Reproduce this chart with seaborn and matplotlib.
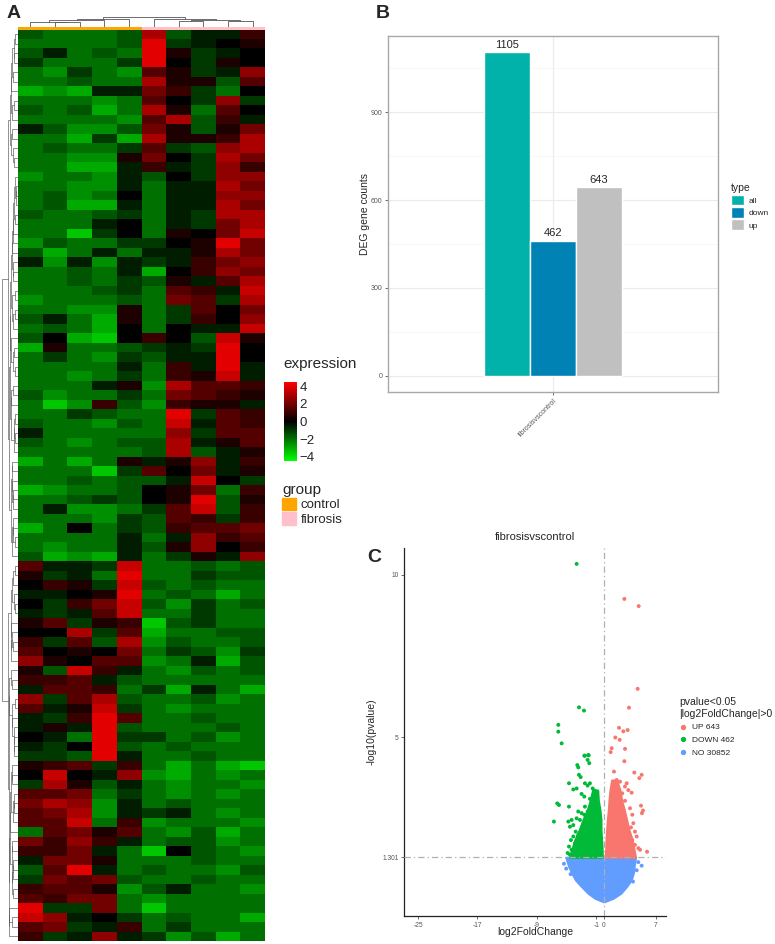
import numpy as np
import pandas as pd
import seaborn as sns
import matplotlib as mpl
import matplotlib.pyplot as plt
from matplotlib.colors import LinearSegmentedColormap, ListedColormap
from matplotlib.patches import Patch
from matplotlib.lines import Line2D

# ---- A: heatmap (rows, top to bottom; 10 samples) ----
samples = ["C1", "C2", "C3", "C4", "C5", "F1", "F2", "F3", "F4", "F5"]
sample_groups = ["control"] * 5 + ["fibrosis"] * 5
group_names = ["control", "fibrosis"]
group_colors = ["#FFA500", "#FFC0CB"]
heat_ticks = [-4, -2, 0, 2, 4]
expr_rows = [
    [-1.5, -2, -2, -2, -1.5, 3, -1.5, -0.5, -0.5, 1],
    [-2, -2, -2, -2, -1.5, 4, -1, -0.5, 0, 0.5],
    [-1.5, -0.5, -2, -1.5, -2, 4, 0.5, -1, -0.5, 0],
    [-1, -2, -2, -2, -1, 4, 0, -1, 0.5, 0],
    [-2, -2.5, -1, -2, -2.5, 1.5, 0.5, -1, -0.5, 2.5],
    [-2, -2, -1.5, -2, -2, 3, 0.5, 0.5, -1.5, 1.5],
    [-3, -2.5, -3, -0.5, -0.5, 2, 1, -1, -2, 0],
    [-2, -2, -2, -2.5, -2, 1.5, 0, -1, 2.5, -1],
    [-1.5, -2, -1.5, -3, -2, 3, 0.5, -2, 1.5, 0],
    [-2, -2, -2, -2, -2.5, 1.5, 3, -1.5, 1, -0.5],
    [-0.5, -1.5, -2.5, -2.5, -1.5, 2, 0.5, -1.5, 0.5, 2],
    [-2, -2, -3, -1, -3, 3, 0.5, 0.5, 1, 3],
    [-2, -1.5, -2, -2, -1, 1.5, -1, -1.5, 2.5, 3],
    [-2, -2, -2.5, -2.5, 0.5, 2, 0, -1, 3, 2],
    [-2, -2, -3, -3, -0.5, 1, -0.5, -1, 2.5, 1],
    [-2.5, -2, -2, -2.5, -0.5, -1.5, 0, -1, 2.5, 2.5],
    [-2, -2, -2.5, -2.5, -0.5, -2, -0.5, -0.5, 3, 2],
    [-2, -1.5, -2.5, -2, 0, -2, -0.5, -0.5, 2.5, 2.5],
    [-2, -1.5, -3, -3, -0.5, -2, -0.5, -0.5, 3, 2],
    [-1.5, -2, -2, -1.5, -1, -2, -0.5, -1, 3, 3],
    [-2, -2, -2, -0.5, 0, -2, -0.5, -1, 2, 3],
    [-2, -2, -3.5, -1, 0, -2, 0.5, 0, 2, 3.5],
    [-2.5, -1.5, -2, -2, -1, -1, 0, 0.5, 4, 2],
    [-1.5, -3, -2, -0.5, -2, -0.5, -0.5, 0.5, 3, 2],
    [-0.5, -2.5, -0.5, -2.5, -0.5, -1, -0.5, 1, 2, 2.5],
    [-2, -2, -1.5, -2, -0.5, -3, 0, 1, 2.5, 2],
    [-2, -2, -1.5, -2, -1, -1.5, 0.5, -0.5, 1.5, 3],
    [-2, -2, -2, -1.5, -1, -2, 1.5, 1, -0.5, 3.5],
    [-2.5, -2, -2, -2, -1.5, -2, 2, 1.5, -1, 3],
    [-2, -2, -2.5, -2.5, 0.5, -2, -1, 1.5, 0, 2],
    [-1.5, -0.5, -2, -3, 0.5, -2, -1, 1, 0, 2.5],
    [-2, -1.5, -2, -3, 0, -2, 0, -0.5, -0.5, 3.5],
    [-1.5, 0, -3, -3.5, 0, 1, 0, -1.5, 3.5, 0.5],
    [-3, 0.5, -2, -2, -1.5, -1, -0.5, -1, 4, 0],
    [-2, -1, -2, -2.5, -1, -1.5, -0.5, -0.5, 4, 0],
    [-2, -2, -2, -2, -0.5, -2, 1, -0.5, 4, -0.5],
    [-2, -2, -2.5, -2, -1, -2, 1, 0.5, 3.5, -0.5],
    [-2, -2, -2, -0.5, 0.5, -2.5, 3, 1.5, 1.5, 1],
    [-1.5, -2.5, -2, -2, -1, -2, 2, 1.5, 1, 0.5],
    [-2, -3.5, -2.5, 1, -1.5, -2.5, 1, 0.5, 0.5, -0.5],
    [-2, -2, -1, -1.5, -2, -2, 4, -1, 1.5, 1],
    [-1.5, -2, -2, -2.5, -1.5, -2, 3.5, -0.5, 1.5, 1],
    [-0.5, -2, -2, -2, -2, -2, 2.5, -1, 1.5, 1.5],
    [-1.5, -2, -2.5, -2, -1.5, -1.5, 3, -0.5, 0.5, 1.5],
    [-2, -2, -2, -2, -2, -1.5, 3, -1.5, -0.5, 0.5],
    [-3, -2, -3, -2, 0.5, -0.5, 0.5, 2.5, -0.5, 1],
    [-2, -2, -2, -3.5, -1, 1.5, 0, 2, -0.5, 0.5],
    [-2, -2, -1.5, -2, -1.5, -1.5, -0.5, 3.5, 0, -1],
    [-3, -2.5, -2, -2, -1.5, 0, 0.5, 2, -2, 1],
    [-2, -2, -1.5, -1, -1.5, 0, 0.5, 4, -1.5, 0.5],
    [-2, -0.5, -2.5, -2.5, -2, -1, 1.5, 3.5, -1.5, 1],
    [-2, -2, -2, -2.5, -1, -1.5, 1.5, 1, -1, 1],
    [-3, -2, 0, -2, -1, -1.5, 1, 1.5, 1.5, 2],
    [-2, -2, -2, -2, -0.5, -2, -0.5, 2.5, 1, 1.5],
    [-2, -2.5, -2, -2, -0.5, -1.5, 0.5, 2.5, 0, 1],
    [-1.5, -3, -2.5, -3, -0.5, -2, -1, 0.5, -0.5, 2.5],
    [1.5, -0.5, -0.5, -1, 3.5, -2, -2, -1.5, -2, -1.5],
    [0.5, -1, -0.5, -2, 4, -2, -2, -1, -1.5, -1.5],
    [0, 1, 0.5, -1, 3.5, -1.5, -2, -1.5, -2, -2],
    [-0.5, -0.5, 0, 0.5, 4, -2, -1.5, -2, -3, -2],
    [0, -1, 1, 2, 3.5, -1.5, -2.5, -1, -2, -1.5],
    [-0.5, -1, -0.5, 1.5, 3.5, -2, -2, -1, -2, -2],
    [0.5, 1.5, -1, 0.5, 1, -3.5, -1.5, -1, -2, -2],
    [0, 0, 3, -1, 1.5, -3, -2, -2, -1.5, -1.5],
    [1, -1, 1.5, -1.5, 3, -2.5, -1.5, -2, -2, -1.5],
    [1.5, 0, 0.5, 0, 2, -2, -1, -1.5, -2.5, -1],
    [2.5, 0.5, 0, 1.5, 1.5, -2.5, -2, -0.5, -3, -1.5],
    [0.5, -1.5, 3.5, 1, -0.5, -2, -2.5, -1.5, -2, -1.5],
    [1, 1, 1.5, -0.5, -1.5, -2, -2, -2, -2, -2],
    [-0.5, 1.5, 1.5, 1, -2, -1, -3, -0.5, -2, -3],
    [2.5, -1, 1.5, 3, -1.5, -2, -2, -1.5, -2.5, -2],
    [1.5, -0.5, 0.5, 3.5, -1, -2, -2.5, -2, -2, -2],
    [-0.5, -1, 1, 4, 1.5, -2, -2, -1.5, -2, -2],
    [-0.5, 0.5, -0.5, 4, -1.5, -2, -2, -2, -1.5, -2],
    [0, -0.5, -2, 4, -1, -1, -2, -1.5, -2.5, -2],
    [-0.5, -1, 0, 4, -1.5, -2, -1.5, -2, -2, -2],
    [-1, -1, -1.5, 4, -0.5, -2, -2, -1.5, -2, -2],
    [0.5, 1, 1.5, -1, 1, -2, -3, -2, -3, -3.5],
    [0, 3.5, 0, -0.5, 2.5, -2.5, -3, -2, -2.5, -2],
    [-1, 3, 0.5, -1.5, -0.5, -2, -2.5, -2, -2, -2.5],
    [1.5, 1.5, 2, -2, -1, -2, -2.5, -2, -2.5, -2],
    [2, 3, 2.5, -2.5, -0.5, -2, -1.5, -2, -2, -2],
    [1.5, 2, 3, -2.5, -0.5, -1, -0.5, -2, -2.5, -2],
    [1.5, 1.5, 3.5, -2, 1, -2.5, -2, -2, -2, -2.5],
    [-2, 1.5, 2, 0.5, 1.5, -2, -2.5, -1.5, -3, -2],
    [2, 1, 2.5, 1, -0.5, -2, -1.5, -1.5, -2.5, -2],
    [1, 1, 2, -0.5, -2, -3.5, 0, -1.5, -2, -2.5],
    [-0.5, 2, 2, 0.5, -2, -2, -2, -1.5, -2, -2],
    [-1.5, 1.5, 4, -0.5, -2, -1.5, -2, -2, -2.5, -1.5],
    [-1, 2, 1.5, 2, -1.5, -2, -2, -1.5, -2, -2],
    [1, 1.5, 1.5, 0.5, -2.5, -1.5, -0.5, -2, -2, -2.5],
    [1.5, 1, 2, 2, -2, -2.5, -2, -2, -2, -2],
    [4, -1, -1, 2, -2, -3.5, -2, -2, -2, -2],
    [3.5, 2.5, -0.5, 0, -1, -2, -1.5, -2, -2, -3],
    [1.5, 2, -1, -0.5, 1, -2, -1, -2, -2, -2],
    [1, -1, -0.5, 2.5, -0.5, -1, -2.5, -1.5, -3, -2],
]

# ---- B: DEG counts ----
comparison = "fibrosisvscontrol"
deg_types = ["all", "down", "up"]
deg_counts = [1105, 462, 643]
type_colors = ["#00B2A9", "#0082B5", "#C0C0C0"]

# ---- C: volcano ----
p_cut = 1.301
fc_cut = 0
status_names = ["UP", "DOWN", "NO"]
status_counts = [643, 462, 30852]
status_colors = ["#F8766D", "#00BA38", "#619CFF"]
up_x = [2.79, 4.72, 4.58, 3.41, 2.07, 2.65, 3.23, 1.57, 2.16, 1.08, 0.94, 2.88, 2.79,
        1.39, 4.13, 5.12, 4.81, 1.75, 2.20, 3.10, 2.87, 1.43, 1.07, 2.51, 3.32, 3.77,
        2.87, 1.07, 1.88, 5.03, 5.30, 5.16, 3.55, 3.86, 4.00, 3.68, 4.22, 4.45, 3.86,
        4.22, 4.67, 4.90, 5.85, 3.86, 3.32]
up_y = [9.26, 9.04, 6.49, 5.91, 5.29, 5.18, 5.22, 4.99, 4.92, 4.66, 4.54, 4.64, 4.26,
        3.94, 3.91, 3.84, 3.74, 3.68, 3.63, 3.58, 3.48, 3.43, 3.27, 3.27, 3.37, 3.29,
        3.04, 3.01, 3.06, 2.89, 2.74, 2.66, 2.81, 2.61, 2.35, 2.22, 2.09, 1.94, 1.83,
        1.68, 1.58, 1.53, 1.47, 1.53, 1.99]
down_x = [-3.64, -3.32, -2.65, -6.11, -6.11, -5.66, -2.52, -2.02, -2.61, -2.07, -2.16,
          -1.94, -3.55, -3.42, -3.33, -3.10, -4.67, -2.52, -2.16, -1.85, -4.09, -3.64,
          -1.48, -1.17, -1.26, -2.97, -2.61, -1.85, -1.62, -6.25, -6.02, -4.67, -3.42,
          -2.97, -3.64, -3.19, -4.32, -4.76, -4.54, -4.09, -6.70, -2.52, -2.16, -2.61,
          -3.77, -4.09, -3.42, -4.41, -3.86, -4.67, -4.32, -3.64, -4.85, -4.54]
down_y = [10.34, 5.92, 5.82, 5.38, 5.17, 4.81, 4.43, 4.44, 4.43, 4.45, 4.30, 4.20, 4.14,
          4.07, 3.84, 3.77, 3.58, 3.58, 3.51, 3.58, 3.39, 3.42, 3.42, 3.35, 3.22, 3.25,
          3.17, 3.10, 3.00, 2.96, 2.91, 2.86, 2.71, 2.66, 2.50, 2.45, 2.45, 2.40, 2.24,
          2.29, 2.40, 2.86, 2.71, 2.61, 2.09, 1.94, 1.99, 1.83, 1.73, 1.63, 1.53, 1.58,
          1.43, 1.38]
no_x = [-5.35, -4.54, -5.05, -4.75, -4.45, 4.67, 5.12, 4.45, 3.95]
no_y = [1.10, 1.03, 0.95, 1.20, 0.78, 1.15, 1.04, 0.90, 0.55]
# envelopes of the saturated point clouds
core_no_y = [1.30, 1.01, 0.81, 0.60, 0.40, 0.19, 0.04, -0.07]
core_no_left = [-5.1, -4.7, -4.3, -3.8, -3.0, -2.1, -1.2, -0.05]
core_no_right = [4.3, 4.1, 4.0, 3.7, 3.1, 2.3, 1.3, 0.1]
core_down_y = [1.30, 1.53, 1.83, 2.14, 2.45, 2.76, 3.06, 3.37]
core_down_left = [-4.6, -4.3, -3.9, -3.3, -2.8, -2.2, -1.8, -1.5]
core_down_right = [-0.18, -0.2, -0.27, -0.36, -0.36, -0.5, -0.72, -0.8]
core_up_y = [1.30, 1.53, 1.83, 2.14, 2.45, 2.76, 3.06, 3.37, 3.68]
core_up_left = [0.18, 0.27, 0.31, 0.40, 0.49, 0.63, 0.72, 0.85, 1.07]
core_up_right = [4.3, 4.1, 3.86, 3.41, 3.1, 2.78, 2.42, 2.2, 1.75]
vx_ticks = [-25, -17, -9, -1, 0, 7]
vy_ticks = [1.301, 5, 10]

sns.set_theme(style="white")
plt.rcParams["font.family"] = ["Liberation Sans", "DejaVu Sans"]

W, H = 775, 944
fig = plt.figure(figsize=(W / 100, H / 100), dpi=100)


def box(l, t, r, b):
    return fig.add_axes([l / W, 1 - b / H, (r - l) / W, (b - t) / H])


def adjacent_tree(mat):
    # average-linkage clustering restricted to neighbours, so leaves keep display order
    D = np.sqrt(((mat[:, None, :] - mat[None, :, :]) ** 2).sum(-1))
    clusters = [([i], i + 0.5, 0.0) for i in range(len(mat))]
    links = []
    while len(clusters) > 1:
        d = [D[np.ix_(clusters[i][0], clusters[i + 1][0])].mean() for i in range(len(clusters) - 1)]
        k = int(np.argmin(d))
        (ma, pa, ha), (mb, pb, hb) = clusters[k], clusters[k + 1]
        h = max(d[k], ha, hb)
        links.append((pa, ha, pb, hb, h))
        clusters[k:k + 2] = [(ma + mb, (pa + pb) / 2, h)]
    return links


expr = np.array(expr_rows, dtype=float)
heat_cmap = LinearSegmentedColormap.from_list("gbr", ["#00FF00", "#000000", "#FF0000"])
vlim = 4.5

ax_hm = box(18, 29.5, 265, 941)
sns.heatmap(pd.DataFrame(expr, columns=samples), cmap=heat_cmap, vmin=-vlim, vmax=vlim,
            cbar=False, xticklabels=False, yticklabels=False, ax=ax_hm)

ax_ann = box(18, 26.5, 265, 29.5)
codes = np.array([[group_names.index(g) for g in sample_groups]])
sns.heatmap(codes, cmap=ListedColormap(group_colors), vmin=0, vmax=1, cbar=False,
            xticklabels=False, yticklabels=False, ax=ax_ann)

ax_rd = box(2, 29.5, 17.5, 941)
links = adjacent_tree(expr)
for pa, ha, pb, hb, h in links:
    ax_rd.plot([ha, h, h, hb], [pa, pa, pb, pb], color="#555555", lw=0.45)
ax_rd.set_xlim(max(l[4] for l in links) * 1.01, 0)
ax_rd.set_ylim(len(expr), 0)
ax_rd.axis("off")

ax_cd = box(18, 16, 265, 26.5)
clinks = adjacent_tree(expr.T)
for pa, ha, pb, hb, h in clinks:
    ax_cd.plot([pa, pa, pb, pb], [ha, h, h, hb], color="#555555", lw=0.6)
ax_cd.set_xlim(0, len(samples))
ax_cd.set_ylim(0, max(l[4] for l in clinks) * 1.05)
ax_cd.axis("off")

fig.text(283 / W, 1 - 364 / H, "expression", fontsize=11, va="center", ha="left")
cax = box(284, 382, 297, 461)
cb = fig.colorbar(mpl.cm.ScalarMappable(norm=mpl.colors.Normalize(-vlim, vlim), cmap=heat_cmap),
                  cax=cax, ticks=heat_ticks)
cb.outline.set_visible(False)
cax.tick_params(length=0, labelsize=9.5, pad=2)
fig.legend(handles=[Patch(color=c, label=g) for g, c in zip(group_names, group_colors)],
           title="group", loc="upper left", bbox_to_anchor=(282 / W, 1 - 483 / H),
           frameon=False, fontsize=9.5, title_fontsize=11, alignment="left",
           handlelength=1.05, handleheight=1.1, handletextpad=0.35, labelspacing=0.05,
           borderpad=0, borderaxespad=0)

# ---- B ----
axb = box(388, 36, 718, 392)
bar_df = pd.DataFrame({"compare": [comparison] * len(deg_types), "type": deg_types,
                       "count": deg_counts})
sns.barplot(data=bar_df, x="compare", y="count", hue="type", hue_order=deg_types,
            palette=dict(zip(deg_types, type_colors)), width=0.9, gap=0, saturation=1,
            legend=False, ax=axb)
for cont in axb.containers:
    axb.bar_label(cont, fontsize=8, padding=1.5)
axb.set_xlim(-1.076, 1.076)
axb.set_ylim(-55.25, 1160.25)
axb.set_yticks([0, 300, 600, 900])
axb.set_yticks([150, 450, 750, 1050], minor=True)
axb.grid(which="major", color="#EBEBEB", lw=0.8)
axb.grid(which="minor", axis="y", color="#F5F5F5", lw=0.5)
axb.set_axisbelow(True)
for s in axb.spines.values():
    s.set_color("#A8A8A8")
    s.set_linewidth(1.0)
axb.tick_params(axis="both", which="major", length=2.5, width=0.6, color="#555555",
                labelsize=5, labelcolor="#555555", pad=1.5, left=True, bottom=True)
axb.tick_params(which="minor", length=0)
plt.setp(axb.get_xticklabels(), rotation=45, ha="right", rotation_mode="anchor")
axb.set_xlabel("")
axb.set_ylabel("DEG gene counts", fontsize=7.5)
axb.yaxis.set_label_coords(-0.055, 0.5)
fig.legend(handles=[Patch(facecolor=c, edgecolor="white", label=t) for t, c in zip(deg_types, type_colors)],
           title="type", loc="upper left", bbox_to_anchor=(731 / W, 1 - 183 / H), frameon=False,
           fontsize=6, title_fontsize=7.5, alignment="left", handlelength=1.6, handleheight=1.6,
           handletextpad=0.5, labelspacing=0.2, borderpad=0, borderaxespad=0)

# ---- C ----
axv = box(404, 548, 666, 916)
axv.fill_betweenx(core_no_y, core_no_left, core_no_right, color=status_colors[2], lw=1.5)
axv.fill_betweenx(core_down_y, core_down_left, core_down_right, color=status_colors[1], lw=1.5)
axv.fill_betweenx(core_up_y, core_up_left, core_up_right, color=status_colors[0], lw=1.5)
vol_df = pd.concat([
    pd.DataFrame({"lfc": no_x, "p": no_y, "st": "NO"}),
    pd.DataFrame({"lfc": down_x, "p": down_y, "st": "DOWN"}),
    pd.DataFrame({"lfc": up_x, "p": up_y, "st": "UP"}),
])
sns.scatterplot(data=vol_df, x="lfc", y="p", hue="st", palette=dict(zip(status_names, status_colors)),
                s=8, linewidth=0, legend=False, ax=axv)
dash = (0, (5, 2.5, 1, 2.5))
axv.axhline(p_cut, color="#B0B0B0", lw=0.9, ls=dash, zorder=5)
axv.axvline(fc_cut, color="#B0B0B0", lw=0.9, ls=dash, zorder=5)
axv.set_xlim(-26.9, 8.4)
axv.set_ylim(-0.51, 10.83)
axv.set_xticks(vx_ticks)
axv.set_xticklabels([str(v) for v in vx_ticks])
axv.set_yticks(vy_ticks)
axv.set_yticklabels(["1.301", "5", "10"])
for side in ["top", "right"]:
    axv.spines[side].set_visible(False)
for side in ["left", "bottom"]:
    axv.spines[side].set_color("#222222")
    axv.spines[side].set_linewidth(0.9)
axv.tick_params(length=2.5, width=0.6, color="#555555", labelsize=4.8, labelcolor="#555555",
                pad=1.5, left=True, bottom=True)
axv.set_title(comparison, fontsize=8, pad=6)
axv.set_xlabel("log2FoldChange", fontsize=7.5)
axv.xaxis.set_label_coords(0.5, -0.03)
axv.set_ylabel("-log10(pvalue)", fontsize=7.5)
axv.yaxis.set_label_coords(-0.103, 0.5)
fig.legend(handles=[Line2D([], [], marker="o", ls="", color=c, markersize=2.8, label=f"{n} {k}")
                    for n, k, c in zip(status_names, status_counts, status_colors)],
           title="pvalue<0.05\n|log2FoldChange|>0", loc="upper left",
           bbox_to_anchor=(679 / W, 1 - 697 / H), frameon=False, fontsize=6, title_fontsize=7.5,
           alignment="left", handlelength=1.0, handletextpad=0.6, labelspacing=0.6,
           borderpad=0, borderaxespad=0)

for lab, x, y in [("A", 7, 13), ("B", 376, 13), ("C", 367, 557)]:
    fig.text(x / W, 1 - y / H, lab, fontsize=14, fontweight="bold", va="center", ha="left")

fig.savefig("out.png", dpi=100)
